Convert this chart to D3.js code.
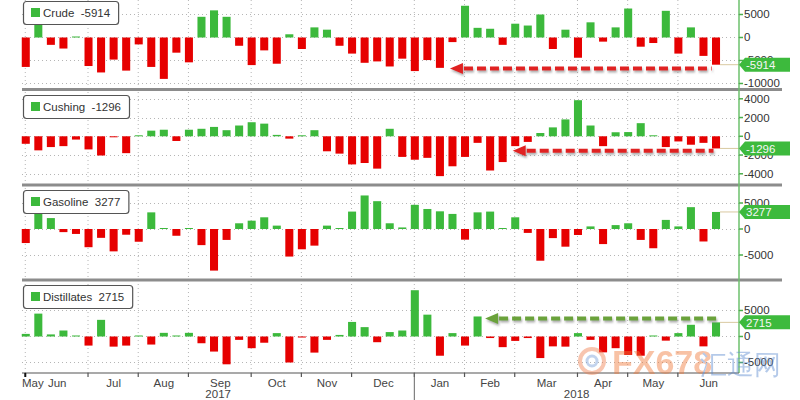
<!DOCTYPE html>
<html><head><meta charset="utf-8">
<script src="https://cdn.jsdelivr.net/npm/d3@7"></script>
<style>
body{margin:0;background:#fff}
svg{display:block}
text{font-family:"Liberation Sans",Arial,sans-serif}
</style>
</head><body>
<svg id="chart" width="800" height="400"></svg>
<script>
// ---- categories: week-ending dates ----
const weeks = [
"2017-05-26","2017-06-02","2017-06-09","2017-06-16","2017-06-23","2017-06-30",
"2017-07-07","2017-07-14","2017-07-21","2017-07-28","2017-08-04","2017-08-11",
"2017-08-18","2017-08-25","2017-09-01","2017-09-08","2017-09-15","2017-09-22",
"2017-09-29","2017-10-06","2017-10-13","2017-10-20","2017-10-27","2017-11-03",
"2017-11-10","2017-11-17","2017-11-24","2017-12-01","2017-12-08","2017-12-15",
"2017-12-22","2017-12-29","2018-01-05","2018-01-12","2018-01-19","2018-01-26",
"2018-02-02","2018-02-09","2018-02-16","2018-02-23","2018-03-02","2018-03-09",
"2018-03-16","2018-03-23","2018-03-30","2018-04-06","2018-04-13","2018-04-20",
"2018-04-27","2018-05-04","2018-05-11","2018-05-18","2018-05-25","2018-06-01",
"2018-06-08","2018-06-15"];

// ---- series values (thousand barrels, weekly change) ----
const crude = [-6400,2800,-1600,-2400,150,-6200,-7600,-4800,-7200,-1500,
 -6400,-9000,-3300,-5400,4500,5900,4500,-1800,-6000,-2800,
 -5700,700,-2500,2200,1700,-1800,-3500,-5500,-5200,-6300,
 -4600,-7300,-4900,-6600,-1000,6900,2100,1900,-1600,3000,
 2600,5000,-2500,1700,-4400,3300,-900,2200,6300,-2000,
 -1200,5800,-3500,2200,-4000,-5914];
const cushing = [-800,-1500,-1150,-1050,-350,-1400,-2050,-60,-1800,40,
 600,700,-500,700,800,1000,650,1150,1500,1350,
 150,-250,40,650,-1600,-1850,-3000,-2850,-3450,800,
 -2200,-2500,-2300,-4250,-3200,-2200,-700,-3650,-2750,-1050,
 -600,350,950,1800,3850,1150,-1050,430,450,1400,
 30,-1150,-550,-900,-700,-1296];
const gasoline = [-2700,3000,2100,-600,-950,-3500,-1700,-4300,-1100,-2450,
 3200,50,-1300,30,-3100,-8000,-2100,1100,1600,2250,
 650,-5300,-3900,-3200,650,50,3350,6450,5350,1100,
 300,4650,3850,3400,2900,-2050,3200,3350,100,2250,
 -750,-6100,-1750,-3400,-1150,500,-2900,750,1100,-2100,
 -3700,1750,500,4200,-2400,3277];
const distillates = [500,4400,400,1150,50,-1750,3200,-1950,-1750,50,
 -1550,700,50,700,-1300,-2900,-5350,-650,-2250,-1200,
 650,-5000,-200,-3100,-650,300,2800,1800,-1100,850,
 1150,8900,4200,-3700,650,-1750,3850,-300,-2050,-850,
 -300,-4150,-1900,-1950,650,-650,-3050,-2250,-3550,-3700,
 50,-800,650,2250,-1900,2715];

// ---- axis tick labels ----
const seriesNames = ["Crude","Cushing","Gasoline","Distillates"];
const crudeTicks = [5000,0,-5000,-10000];
const cushingTicks = [4000,2000,0,-2000,-4000];
const gasolineTicks = [5000,0,-5000];
const distillatesTicks = [5000,0,-5000];
const monthNames = ["Jan","Feb","Mar","Apr","May","Jun","Jul","Aug","Sep","Oct","Nov","Dec"];

// ---- annotation arrows (value level, from/to week index) ----
const arrowSeries = ["Crude","Cushing","Distillates"];
const arrowValues = [-6740,-1550,3460];
const arrowFrom = [33.8,38.8,36.6];
const arrowTo = [54.65,54.8,55.1];

// ---- layout ----
const RED = "#e60000", GREEN = "#3cb93c";
const X0 = 22, AX = 739, AXIS_Y = 373;
const panels = [
  {name:"Crude", values:crude, ticks:crudeTicks, range:[88,1], domain:[-10980,7935]},
  {name:"Cushing", values:cushing, ticks:cushingTicks, range:[184,92], domain:[-5090,4725]},
  {name:"Gasoline", values:gasoline, ticks:gasolineTicks, range:[279,187], domain:[-9615,8077]},
  {name:"Distillates", values:distillates, ticks:distillatesTicks, range:[372,282], domain:[-6830,10480]}
];
const legendTops = [1,95,190,285];
const separators = [89.5,185,280];

const svg = d3.select("#chart");
svg.append("rect").attr("width",800).attr("height",400).attr("fill","#fff");

const defs = svg.append("defs");
const f = defs.append("filter").attr("id","shadow").attr("x","-10%").attr("y","-50%").attr("width","130%").attr("height","250%");
f.append("feDropShadow").attr("dx",1).attr("dy",2).attr("stdDeviation",1.2).attr("flood-color","#666").attr("flood-opacity",0.55);

const x = d3.scaleBand().domain(weeks).range([19.5, 19.5 + 56*12.55]).paddingInner(0.36).paddingOuter(0.18);
const step = x.step(), bw = x.bandwidth();
const xc = i => x(weeks[0]) + bw/2 + i*step;

const parse = d3.timeParse("%Y-%m-%d");
const dates = weeks.map(parse);
// month ticks at the last week of each month
const tickIdx = [];
dates.forEach((d,i)=>{ if(i<dates.length-1 && d.getMonth()!==dates[i+1].getMonth()) tickIdx.push(i); });

// vertical dotted gridlines
svg.append("g").selectAll("line").data(tickIdx).join("line")
  .attr("x1",i=>xc(i)-0.5).attr("x2",i=>xc(i)-0.5).attr("y1",0).attr("y2",AXIS_Y)
  .attr("stroke","#b5b5b5").attr("stroke-width",1).attr("stroke-dasharray","1,3");

panels.forEach((p,pi)=>{
  const y = d3.scaleLinear().domain(p.domain).range(p.range);
  p.y = y;
  const g = svg.append("g");
  // horizontal gridlines
  g.selectAll("line.h").data(p.ticks).join("line").attr("class","h")
    .attr("x1",X0).attr("x2",AX).attr("y1",d=>Math.round(y(d))+0.5).attr("y2",d=>Math.round(y(d))+0.5)
    .attr("stroke","#b5b5b5").attr("stroke-dasharray","1,3");
  // bars
  g.selectAll("rect.bar").data(p.values).join("rect").attr("class","bar")
    .attr("x",(d,i)=>x(weeks[i])).attr("width",bw)
    .attr("y",d=> d>=0 ? Math.min(y(d), y(0)-1) : y(0))
    .attr("height",d=>Math.max(1,Math.abs(y(d)-y(0))))
    .attr("fill",d=>d>=0?GREEN:RED);
  // connector from last bar to axis
  const last = p.values[p.values.length-1];
  g.append("line").attr("x1",xc(p.values.length-1)+bw/2).attr("x2",AX).attr("y1",y(last)).attr("y2",y(last))
    .attr("stroke","#d9c9a0").attr("stroke-width",1);
});

// arrows
arrowSeries.forEach((s,k)=>{
  const p = panels.find(q=>q.name===s);
  const yy = p.y(arrowValues[k]);
  const col = s==="Distillates" ? "#6aa23a" : "#e02020";
  const ga = svg.append("g").attr("filter","url(#shadow)");
  const xt = xc(arrowFrom[k]), xe = xc(arrowTo[k]);
  ga.append("line").attr("x1",xt+14).attr("x2",xe).attr("y1",yy).attr("y2",yy)
    .attr("stroke",col).attr("stroke-width",4).attr("stroke-dasharray","9,4");
  ga.append("path").attr("d",`M${xt},${yy} L${xt+13},${yy-5.5} L${xt+13},${yy+5.5} Z`).attr("fill",col);
});

// separators
svg.append("g").selectAll("line").data(separators).join("line")
  .attr("x1",X0).attr("x2",782).attr("y1",d=>d).attr("y2",d=>d)
  .attr("stroke","#8c8c8c").attr("stroke-width",3);

// right axis
svg.append("line").attr("x1",AX).attr("x2",AX).attr("y1",0).attr("y2",AXIS_Y)
  .attr("stroke","#6cc06c").attr("stroke-width",1.5);

panels.forEach((p,pi)=>{
  const y = p.y;
  const g = svg.append("g");
  g.selectAll("line.t").data(p.ticks).join("line").attr("class","t")
    .attr("x1",AX).attr("x2",AX+4).attr("y1",d=>y(d)).attr("y2",d=>y(d))
    .attr("stroke","#4caf4c").attr("stroke-width",1.5);
  g.selectAll("text.t").data(p.ticks).join("text").attr("class","t")
    .attr("x",AX+5).attr("y",d=>y(d)+4).attr("font-size",11.5).attr("fill","#333")
    .text(d=>d);
  // badge
  const last = p.values[p.values.length-1];
  const by = y(last);
  g.append("path").attr("d",`M${AX},${by} L${AX+6},${by-7} L790,${by-7} L790,${by+7} L${AX+6},${by+7} Z`)
    .attr("fill","#3dba3d");
  g.append("text").attr("x",AX+7).attr("y",by+4.2).attr("font-size",11.5).attr("fill","#f6f6f6").text(last);
  // legend
  const lt = legendTops[pi];
  const lg = svg.append("g");
  const txt = lg.append("text").attr("x",43).attr("y",lt+16).attr("font-size",11.5).attr("fill","#333")
    .attr("xml:space","preserve").text(p.name+"  "+last);
  const w = txt.node().getComputedTextLength();
  lg.insert("rect","text").attr("x",23.5).attr("y",lt+0.5).attr("width",w+28).attr("height",23).attr("rx",3)
    .attr("fill","#fff").attr("stroke","#555").attr("stroke-width",1.2);
  lg.insert("rect","text").attr("x",31).attr("y",lt+7).attr("width",9).attr("height",9).attr("fill",GREEN);
});

// bottom axis
svg.append("line").attr("x1",X0).attr("x2",AX).attr("y1",AXIS_Y).attr("y2",AXIS_Y).attr("stroke","#555").attr("stroke-width",1.2);
svg.append("g").selectAll("line").data(tickIdx).join("line")
  .attr("x1",i=>xc(i)-0.5).attr("x2",i=>xc(i)-0.5).attr("y1",AXIS_Y).attr("y2",AXIS_Y+4)
  .attr("stroke",(i,k)=>k===0?"#111":"#555").attr("stroke-width",(i,k)=>k===0?2:1.2);

// month labels
const monthGroups = d3.groups(dates.map((d,i)=>({d,i})), o=>d3.timeFormat("%Y-%m")(o.d));
monthGroups.forEach(([key,arr],k)=>{
  const lastI = arr[arr.length-1].i;
  const start = k===0 ? X0 : xc(monthGroups[k-1][1].slice(-1)[0].i);
  const end = k===monthGroups.length-1 ? AX : xc(lastI);
  const label = monthNames[arr[0].d.getMonth()];
  let cx = (start+end)/2;
  const t = svg.append("text").attr("y",387).attr("font-size",11.5).attr("fill","#444").text(label);
  const w = t.node().getComputedTextLength();
  if (cx - w/2 < X0) { t.attr("x",X0).attr("text-anchor","start"); }
  else t.attr("x",cx).attr("text-anchor","middle");
});
// year labels and separator
const years = d3.groups(dates.map((d,i)=>({d,i})), o=>o.d.getFullYear());
const yb = xc(years[0][1].slice(-1)[0].i)-0.5;
svg.append("line").attr("x1",yb).attr("x2",yb).attr("y1",AXIS_Y).attr("y2",400).attr("stroke","#666").attr("stroke-width",1);
years.forEach(([yr,arr],k)=>{
  const start = k===0 ? X0 : yb;
  const end = k===0 ? yb : AX;
  svg.append("text").attr("x",(start+end)/2).attr("y",398).attr("text-anchor","middle")
    .attr("font-size",11.5).attr("fill","#444").text(yr);
});

// watermark
const wm = svg.append("g").attr("opacity",0.45);
wm.append("circle").attr("cx",592).attr("cy",361).attr("r",12).attr("fill","none").attr("stroke","#f08050").attr("stroke-width",4);
wm.append("circle").attr("cx",592).attr("cy",361).attr("r",5).attr("fill","none").attr("stroke","#7aa0d8").attr("stroke-width",3);
wm.append("text").attr("x",612).attr("y",374).attr("font-size",34).attr("font-weight","bold").attr("fill","#f07a3a").text("FX678");
wm.append("text").attr("x",700).attr("y",374).attr("font-size",27).attr("font-family","Noto Sans CJK SC").attr("fill","#5a8ad0").text("汇通网");
</script>
</body></html>
